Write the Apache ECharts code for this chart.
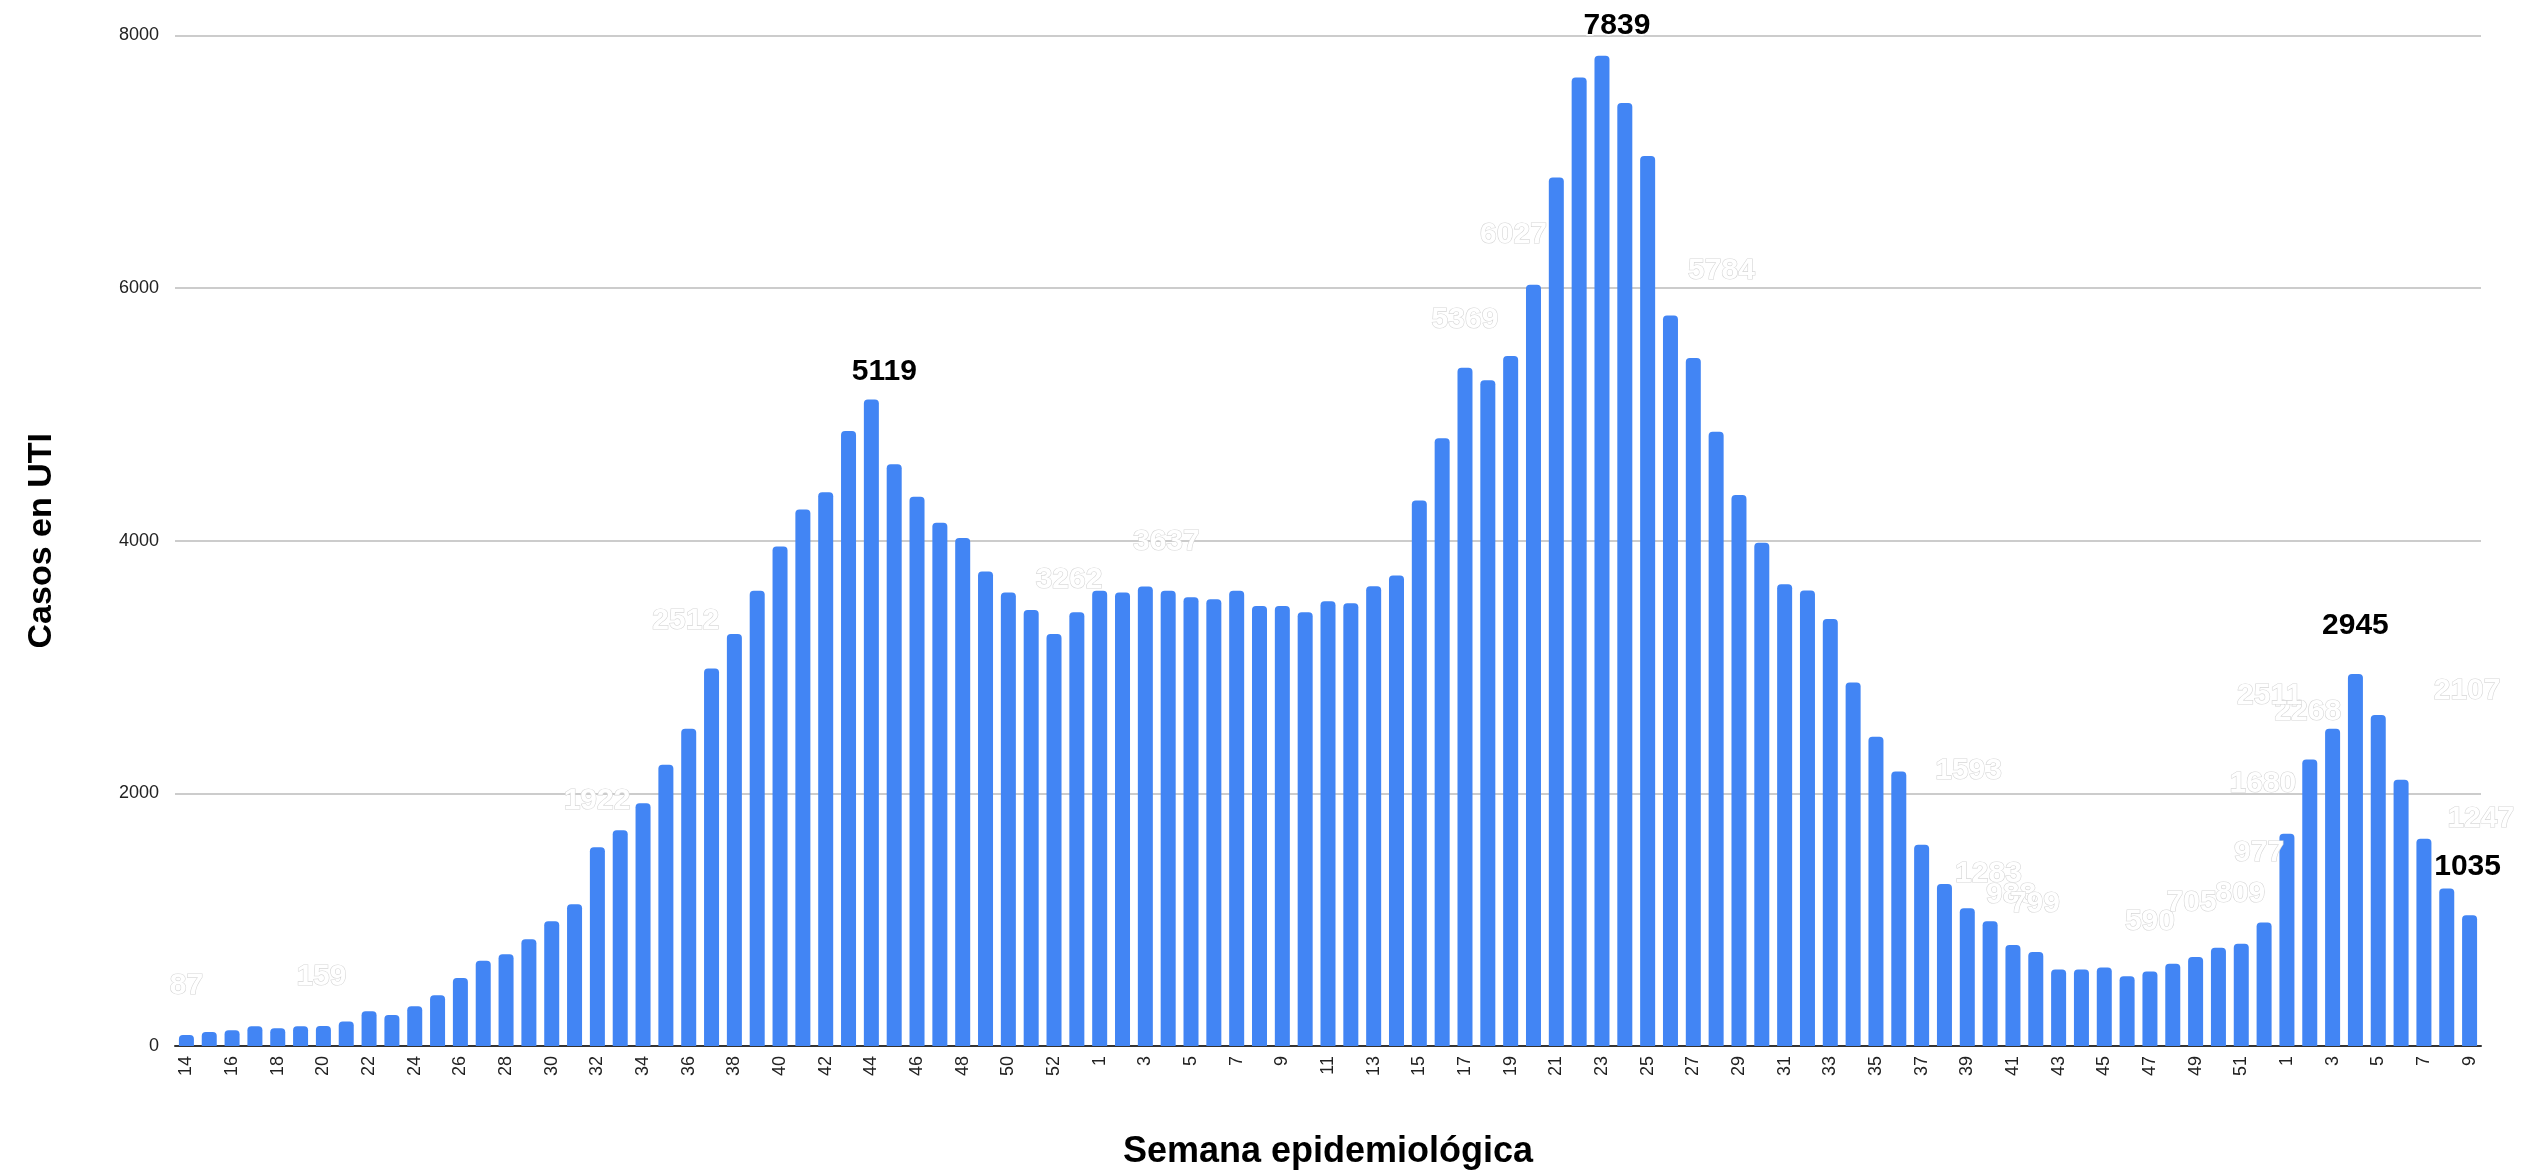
<!DOCTYPE html>
<html>
<head>
<meta charset="utf-8">
<script src="https://cdn.jsdelivr.net/npm/echarts@6/dist/echarts.min.js"></script>
<style>
  html, body { margin: 0; padding: 0; background: #ffffff; }
  #chart { width: 2521px; height: 1170px; }
</style>
</head>
<body>
<div id="chart"></div>
<script>
// Semanas epidemiológicas (etiquetas del eje X)
const semanas2020 = [14,15,16,17,18,19,20,21,22,23,24,25,26,27,28,29,30,31,32,33,34,35,36,37,38,39,40,41,42,43,44,45,46,47,48,49,50,51,52,53];
const semanas2021 = [1,2,3,4,5,6,7,8,9,10,11,12,13,14,15,16,17,18,19,20,21,22,23,24,25,26,27,28,29,30,31,32,33,34,35,36,37,38,39,40,41,42,43,44,45,46,47,48,49,50,51,52];
const semanas2022 = [1,2,3,4,5,6,7,8,9];

// Casos en UTI por semana
const casos2020 = [87,110,125,157,141,157,159,194,276,245,314,401,539,674,727,846,988,1122,1574,1709,1922,2226,2512,2988,3262,3605,3955,4248,4384,4868,5119,4605,4348,4142,4021,3757,3590,3452,3262,3433];
const casos2021 = [3605,3590,3637,3605,3552,3536,3605,3483,3483,3433,3521,3505,3640,3724,4318,4811,5369,5271,5462,6027,6875,7667,7839,7465,7047,5784,5446,4862,4363,3985,3655,3606,3380,2878,2448,2173,1593,1283,1090,988,799,745,605,605,621,552,590,652,705,777,809,977];
const casos2022 = [1680,2268,2511,2945,2621,2107,1640,1247,1035];

// Ticks del eje Y
const ticksY = [0, 2000, 4000, 6000, 8000];

// Etiquetas visibles (negras) y etiquetas blancas del original
const etiquetasNegras = ['2020-44', '2021-23', '2022-4', '2022-9'];
const etiquetasBlancas = ['2020-14','2020-20','2020-34','2020-36','2020-52','2021-3','2021-17','2021-20','2021-26','2021-37','2021-38','2021-40','2021-41','2021-47','2021-49','2021-51','2021-52','2022-1','2022-2','2022-3','2022-6','2022-8'];

// Desplazamiento de cada etiqueta: [dx, altura sobre la barra] (estilo)
const desplazamientoEtiqueta = {
  '2020-14':[0,49], '2020-20':[-2,49], '2020-34':[-46,2], '2020-36':[-3,108], '2020-52':[15,54],
  '2021-3':[21,45], '2020-44':[13,28], '2021-17':[0,48], '2021-20':[-20,50], '2021-23':[15,30],
  '2021-26':[51,45], '2021-37':[47,74], '2021-38':[44,10], '2021-40':[21,26], '2021-41':[22,41],
  '2021-47':[0,50], '2021-49':[-4,54], '2021-51':[-1,50], '2021-52':[-5,70], '2022-1':[-24,50],
  '2022-2':[-2,48], '2022-3':[-63,33], '2022-4':[0,48], '2022-6':[66,89], '2022-8':[34,70], '2022-9':[-2,49]
};

const categorias = [
  ...semanas2020.map(w => '2020-' + w),
  ...semanas2021.map(w => '2021-' + w),
  ...semanas2022.map(w => '2022-' + w)
];
const valores = [...casos2020, ...casos2021, ...casos2022];

const FUENTE = '"Liberation Sans", Arial, Helvetica, sans-serif';

const datos = valores.map((v, i) => {
  const clave = categorias[i];
  const esNegra = etiquetasNegras.includes(clave);
  const esBlanca = etiquetasBlancas.includes(clave);
  if (!esNegra && !esBlanca) return v;
  const d = desplazamientoEtiqueta[clave] || [0, 40];
  return {
    value: v,
    label: {
      show: true,
      position: 'top',
      distance: 0,
      offset: [d[0], 15 - d[1]],
      fontFamily: FUENTE,
      fontSize: 30,
      lineHeight: 30,
      fontWeight: 'bold',
      color: esNegra ? '#000000' : '#ffffff',
      textBorderColor: esNegra ? '#ffffff' : '#d6d6d6',
      textBorderWidth: esNegra ? 3 : 1.2
    }
  };
});

const chart = echarts.init(document.getElementById('chart'), null, { renderer: 'canvas' });
chart.setOption({
  animation: false,
  backgroundColor: '#ffffff',
  grid: { left: 175, right: 40, top: 35.5, bottom: 124, containLabel: false, outerBoundsMode: 'none' },
  xAxis: {
    type: 'category',
    data: categorias,
    boundaryGap: true,
    name: 'Semana epidemiológica',
    nameLocation: 'middle',
    nameGap: 88,
    nameTextStyle: { fontFamily: FUENTE, fontSize: 36, fontWeight: 'bold', color: '#000000' },
    axisTick: { show: false },
    axisLine: { show: true, lineStyle: { color: '#333333', width: 2 } },
    axisLabel: {
      interval: 1,
      rotate: 90,
      margin: 10,
      fontFamily: FUENTE,
      fontSize: 18,
      color: '#222222',
      formatter: v => v.split('-')[1]
    },
    splitLine: { show: false }
  },
  yAxis: {
    type: 'value',
    min: ticksY[0],
    max: ticksY[ticksY.length - 1],
    interval: ticksY[1] - ticksY[0],
    name: 'Casos en UTI',
    nameLocation: 'middle',
    nameGap: 116,
    nameRotate: 90,
    nameTextStyle: { fontFamily: FUENTE, fontSize: 34, fontWeight: 'bold', color: '#000000' },
    axisLine: { show: false },
    axisTick: { show: false },
    axisLabel: { margin: 16, fontFamily: FUENTE, fontSize: 18, color: '#222222', formatter: v => String(v) },
    splitLine: { show: true, lineStyle: { color: '#cccccc', width: 2 } }
  },
  series: [{
    type: 'bar',
    data: datos,
    barWidth: 15,
    itemStyle: { color: '#4285F4', borderRadius: [4, 4, 0, 0] },
    z: 2
  }]
});
</script>
</body>
</html>
